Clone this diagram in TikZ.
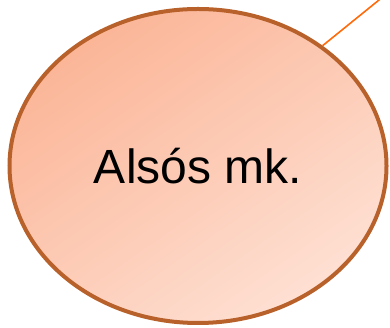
\documentclass[tikz,border=0pt]{standalone}
\usepackage{fontspec}
\setmainfont{Liberation Sans}
\usetikzlibrary{shapes.geometric}
\definecolor{rim}{HTML}{B8612A}
\definecolor{peachdark}{HTML}{FBB597}
\definecolor{peachlight}{HTML}{FEE0D3}
\definecolor{link}{HTML}{FF6A0A}
\begin{document}
\begin{tikzpicture}[x=1pt, y=1pt, school/.style={ellipse, draw=rim, line width=4pt, minimum width=377pt, minimum height=314pt, top color=peachdark, bottom color=peachlight, shading angle=35, font=\fontsize{48}{56}\selectfont}]
	\useasboundingbox (0, 0) rectangle (390, 328);

	\node[school] (alsos) at (198, 162) {Alsós mk.};
	\coordinate (far) at (400, 345);

	\draw[link, line width=1.6pt] (alsos.44) -- (far);
\end{tikzpicture}
\end{document}
